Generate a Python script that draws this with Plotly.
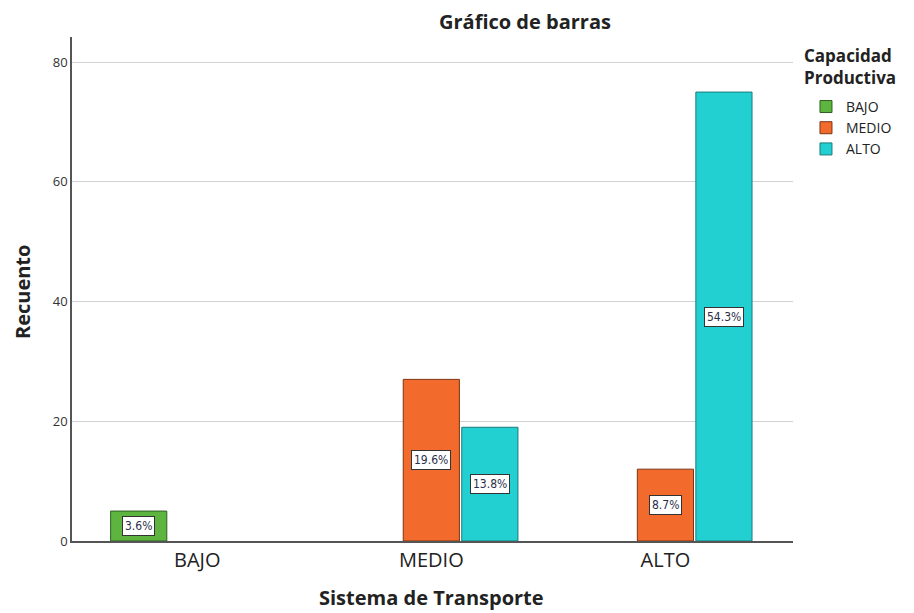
import plotly.graph_objects as go

categories = ["BAJO", "MEDIO", "ALTO"]
series_names = ["BAJO", "MEDIO", "ALTO"]
counts_bajo = [5, 0, 0]
counts_medio = [0, 27, 12]
counts_alto = [0, 19, 75]
colors = ["#5db53f", "#f26a2c", "#22d0d2"]
borders = ["#2e5e22", "#7a3514", "#1c7a7a"]

all_series = [counts_bajo, counts_medio, counts_alto]
total = sum(sum(s) for s in all_series)
xpos = list(range(len(categories)))

fig = go.Figure()
for name, vals, col, bcol in zip(series_names, all_series, colors, borders):
    fig.add_trace(go.Bar(
        x=xpos, y=[v if v else None for v in vals], name=name,
        marker=dict(color=col, line=dict(color=bcol, width=1)),
    ))

bargap = 0.25
nser = len(series_names)
slot = (1 - bargap) / nser
anns = []
for si, vals in enumerate(all_series):
    for ci, v in enumerate(vals):
        if v:
            anns.append(dict(
                x=ci + (si - (nser - 1) / 2) * slot, y=v / 2, xref="x", yref="y",
                text=f"{v / total * 100:.1f}%", showarrow=False,
                font=dict(family="DejaVu Sans Condensed, DejaVu Sans", size=12, color="#2a2f4a"),
                bgcolor="white", bordercolor="#333333", borderwidth=1, borderpad=2,
            ))
title_font = dict(family="Open Sans", size=20, color="#222")
anns.append(dict(x=0.628, y=1.0298, xref="paper", yref="paper", yanchor="middle",
                 text="<b>Gráfico de barras</b>", showarrow=False, font=title_font))
anns.append(dict(x=-0.0693, y=0.494, xref="paper", yref="paper", textangle=-90,
                 xanchor="center", yanchor="middle",
                 text="<b>Recuento</b>", showarrow=False, font=title_font))
anns.append(dict(x=0.4993, y=-0.113, xref="paper", yref="paper",
                 xanchor="center", yanchor="middle",
                 text="<b>Sistema de Transporte</b>", showarrow=False, font=title_font))
legend_title_font = dict(family="Open Sans", size=17, color="#222")
anns.append(dict(x=1.0125, y=0.964, xref="paper", yref="paper", xanchor="left",
                 yanchor="middle", text="<b>Capacidad</b>", showarrow=False,
                 font=legend_title_font))
anns.append(dict(x=1.0125, y=0.920, xref="paper", yref="paper", xanchor="left",
                 yanchor="middle", text="<b>Productiva</b>", showarrow=False,
                 font=legend_title_font))

fig.update_layout(
    width=906, height=605,
    margin=dict(l=64, r=121, t=29, b=72, autoexpand=False),
    plot_bgcolor="white", paper_bgcolor="white",
    barmode="group", bargap=bargap, bargroupgap=0.04,
    annotations=anns,
    font=dict(family="Open Sans", color="#222"),
    legend=dict(
        x=1.018, y=0.893, xanchor="left", yanchor="top",
        font=dict(size=14, color="#222"), itemwidth=30, tracegroupgap=0,
    ),
    xaxis=dict(
        tickvals=xpos, ticktext=categories, range=[-0.535, 2.545], automargin=False,
        showline=True, linecolor="#555", linewidth=1.5, showgrid=False,
        tickfont=dict(size=20, color="#222"), ticks="",
    ),
    yaxis=dict(
        range=[0, 84.2], tickvals=[0, 20, 40, 60, 80], automargin=False,
        showline=True, linecolor="#555", linewidth=1.5,
        showgrid=True, gridcolor="#d2d2d2", zeroline=False,
        tickfont=dict(size=13, color="#333"), ticks="",
    ),
)

fig.write_html("out.html")
